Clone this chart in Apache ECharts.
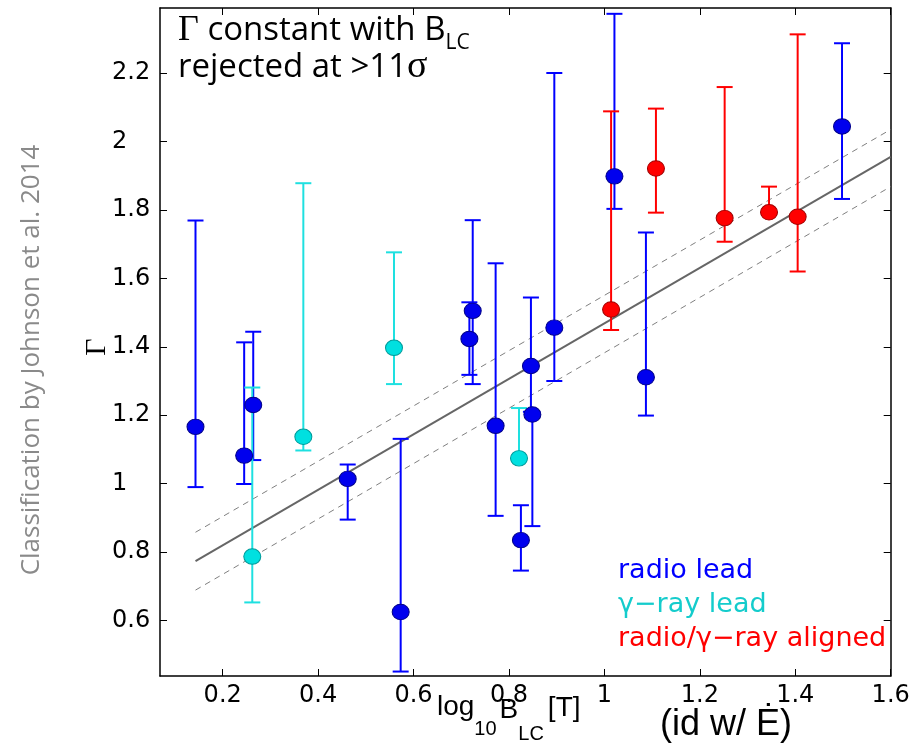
<!DOCTYPE html>
<html><head><meta charset="utf-8">
<script src="https://cdn.jsdelivr.net/npm/echarts@6/dist/echarts.min.js"></script>
<style>html,body{margin:0;padding:0;background:#fff}#c{width:924px;height:750px}</style>
</head><body><div id="c"></div>
<script>
// ---- tick labels ----
const xTickValues = [0.2, 0.4, 0.6, 0.8, 1, 1.2, 1.4, 1.6];
const yTickValues = [0.6, 0.8, 1, 1.2, 1.4, 1.6, 1.8, 2, 2.2];

// ---- radio lead (blue) ----
const radioX    = [0.143, 0.245, 0.264, 0.462, 0.573, 0.717, 0.724, 0.772, 0.825, 0.846, 0.849, 0.895, 1.021, 1.087, 1.498];
const radioY    = [1.166, 1.082, 1.230, 1.014, 0.625, 1.423, 1.505, 1.169, 0.835, 1.344, 1.202, 1.456, 1.898, 1.311, 2.044];
const radioLow  = [0.990, 0.999, 1.069, 0.895, 0.451, 1.318, 1.291, 0.906, 0.746, 1.210, 0.876, 1.300, 1.803, 1.199, 1.832];
const radioHigh = [1.769, 1.413, 1.444, 1.056, 1.131, 1.530, 1.770, 1.644, 0.937, 1.544, 1.210, 2.200, 2.373, 1.734, 2.287];

// ---- gamma-ray lead (cyan) ----
const gammaX    = [0.262, 0.369, 0.559, 0.821];
const gammaY    = [0.787, 1.137, 1.397, 1.074];
const gammaLow  = [0.653, 1.097, 1.291, 1.065];
const gammaHigh = [1.281, 1.878, 1.676, 1.221];

// ---- aligned (red) ----
const alignX    = [1.014, 1.108, 1.252, 1.345, 1.405];
const alignY    = [1.509, 1.921, 1.776, 1.793, 1.780];
const alignLow  = [1.449, 1.792, 1.707, 1.785, 1.620];
const alignHigh = [2.088, 2.096, 2.159, 1.868, 2.313];

// ---- fit line and band ----
const fitX      = [0.143, 1.6];
const fitY      = [0.774, 1.955];
const fitUpperY = [0.858, 2.035];
const fitLowerY = [0.689, 1.868];

const xMin = 0.0686, xMax = 1.6, yMin = 0.438, yMax = 2.39;

const pts  = (xs, ys) => xs.map((x, i) => [x, ys[i]]);
const bars = (xs, lo, hi) => xs.map((x, i) => [x, lo[i], hi[i]]);

function errSeries(name, data, color) {
  return {
    type: 'custom', name, data, silent: true, z: 3,
    encode: { x: 0, y: [1, 2] },
    renderItem(params, api) {
      const x = api.value(0);
      const lo = api.coord([x, api.value(1)]);
      const hi = api.coord([x, api.value(2)]);
      const cap = 8;
      const st = { stroke: color, lineWidth: 2 };
      return { type: 'group', children: [
        { type: 'line', shape: { x1: lo[0], y1: lo[1], x2: hi[0], y2: hi[1] }, style: st },
        { type: 'line', shape: { x1: hi[0] - cap, y1: hi[1], x2: hi[0] + cap, y2: hi[1] }, style: st },
        { type: 'line', shape: { x1: lo[0] - cap, y1: lo[1], x2: lo[0] + cap, y2: lo[1] }, style: st }
      ]};
    }
  };
}
function dotSeries(name, data, fill, edge) {
  return { type: 'scatter', name, data, symbol: 'circle', symbolSize: [17, 15.5], silent: true, z: 4,
    itemStyle: { color: fill, borderColor: edge, borderWidth: 1, opacity: 1 } };
}
function lineSeries(data, color, width, type) {
  return { type: 'line', data, symbol: 'none', showSymbol: false, silent: true, z: 2,
    lineStyle: { color, width, type } };
}

// text measurement for placing text pieces
const mctx = document.createElement('canvas').getContext('2d');
function tw(t, f) { mctx.font = f; return mctx.measureText(t).width; }
function txt(text, x, baseline, size, family, color, k) {
  const font = size + 'px ' + family;
  return { type: 'text', x, y: baseline - k * size, silent: true, z: 100,
    style: { text, font, fill: color || '#000', align: 'left', verticalAlign: 'middle' } };
}

const graphics = [];
// title block
const fSans = '"Open Sans"', fSerif = '"Liberation Serif"';
let gx = 178;
graphics.push(txt('Γ', gx, 43, 36, fSerif, '#000', 0.34));
gx += tw('Γ', '36px ' + fSerif);
graphics.push(txt(' constant with B', gx, 43, 33, fSans, '#000', 0.39));
gx += tw(' constant with B', '33px ' + fSans);
graphics.push(txt('LC', gx, 51, 21, fSans, '#000', 0.39));
gx = 178;
graphics.push(txt('rejected at >11', gx, 80, 33, fSans, '#000', 0.39));
gx += tw('rejected at >11', '33px ' + fSans);
graphics.push(txt('σ', gx, 80, 38, fSerif, '#000', 0.34));

// legend-like annotations
const fLeg = '"DejaVu Sans"';
graphics.push(txt('radio lead', 618, 580, 27, fLeg, '#0000ff', 0.35));
graphics.push(txt('γ−ray lead', 618, 614, 27, fLeg, '#14cccc', 0.35));
graphics.push(txt('radio/γ−ray aligned', 618, 648, 27, fLeg, '#ff0000', 0.35));

// x axis title pieces
const fAx = '"Liberation Sans"';
gx = 437;
graphics.push(txt('log', gx, 717, 28, fAx, '#000', 0.35));
gx += tw('log', '28px ' + fAx);
graphics.push(txt('10', gx, 736, 20, fAx, '#000', 0.35));
gx += tw('10', '20px ' + fAx) + 3;
graphics.push(txt('B', gx, 720, 28, fAx, '#000', 0.35));
gx += tw('B', '28px ' + fAx);
graphics.push(txt('LC', gx, 741, 20, fAx, '#000', 0.35));
gx += tw('LC', '20px ' + fAx) + 4;
graphics.push(txt('[T]', gx, 718, 28, fAx, '#000', 0.35));
graphics.push(txt('(id w/ Ė)', 660, 738, 36, fAx, '#000', 0.35));

// y axis title (rotated Gamma)
graphics.push({ type: 'text', x: 97, y: 347, rotation: Math.PI / 2, silent: true, z: 100,
  style: { text: 'Γ', font: '30px ' + fSerif, fill: '#000', align: 'center', verticalAlign: 'middle' } });

// side note
graphics.push({ type: 'text', x: 32, y: 360, rotation: Math.PI / 2, silent: true, z: 100,
  style: { text: 'Classification by Johnson et al. 2014', font: '26px "Open Sans"', fill: '#8a8a8a',
    align: 'center', verticalAlign: 'middle' } });

const axisCommon = {
  type: 'value', splitLine: { show: false },
  axisLine: { show: true, onZero: false, lineStyle: { color: '#000', width: 1.5 } },
  axisTick: { show: true, inside: true, length: 7, lineStyle: { color: '#000', width: 1 } }
};

const option = {
  animation: false,
  backgroundColor: '#fff',
  grid: { left: 160, right: 33.3, top: 8, bottom: 74 },
  xAxis: [
    Object.assign({}, axisCommon, { position: 'bottom', min: xMin, max: xMax,
      axisTick: Object.assign({}, axisCommon.axisTick, { customValues: xTickValues }),
      axisLabel: { customValues: xTickValues, margin: 8, color: '#000', fontSize: 24, fontFamily: 'DejaVu Sans' } }),
    Object.assign({}, axisCommon, { position: 'top', min: xMin, max: xMax,
      axisTick: Object.assign({}, axisCommon.axisTick, { customValues: xTickValues }),
      axisLabel: { show: false } })
  ],
  yAxis: [
    Object.assign({}, axisCommon, { position: 'left', min: yMin, max: yMax,
      axisTick: Object.assign({}, axisCommon.axisTick, { customValues: yTickValues }),
      axisLabel: { customValues: yTickValues, margin: 48, align: 'left', color: '#000', fontSize: 24, fontFamily: 'DejaVu Sans' } }),
    Object.assign({}, axisCommon, { position: 'right', min: yMin, max: yMax,
      axisTick: Object.assign({}, axisCommon.axisTick, { customValues: yTickValues }),
      axisLabel: { show: false } })
  ],
  series: [
    lineSeries(pts(fitX, fitUpperY), '#808080', 1, [6, 5]),
    lineSeries(pts(fitX, fitLowerY), '#808080', 1, [6, 5]),
    lineSeries(pts(fitX, fitY), '#666666', 2, 'solid'),
    errSeries('radio lead bars', bars(radioX, radioLow, radioHigh), '#0000ff'),
    errSeries('gamma lead bars', bars(gammaX, gammaLow, gammaHigh), '#1ee0e0'),
    errSeries('aligned bars', bars(alignX, alignLow, alignHigh), '#ff0000'),
    dotSeries('radio lead', pts(radioX, radioY), '#0000ee', '#00008a'),
    dotSeries('γ-ray lead', pts(gammaX, gammaY), '#00e0e0', '#009a9a'),
    dotSeries('aligned', pts(alignX, alignY), '#ff0000', '#a00000')
  ],
  graphic: graphics
};

const chart = echarts.init(document.getElementById('c'), null, { renderer: 'canvas', width: 924, height: 750 });
chart.setOption(option);
</script>
</body></html>
